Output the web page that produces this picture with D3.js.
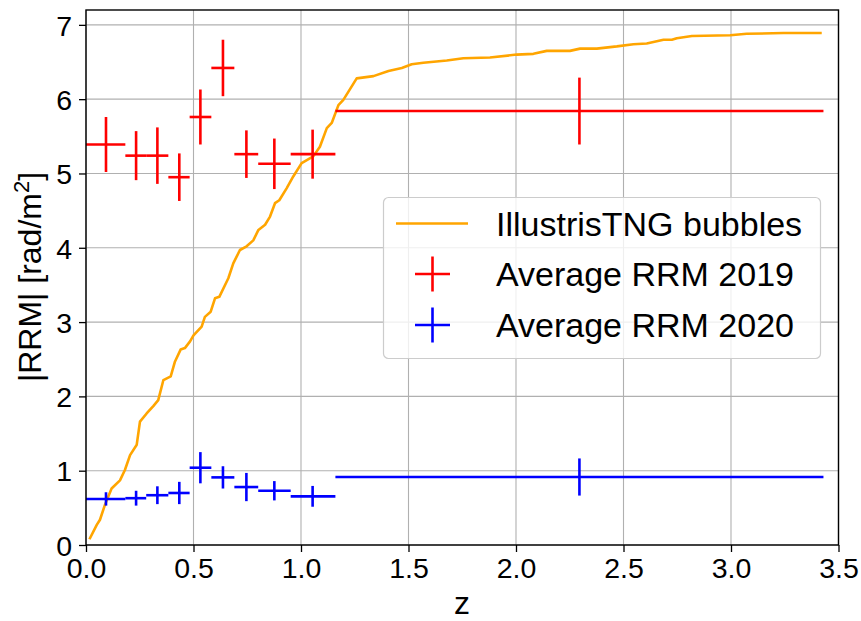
<!DOCTYPE html>
<html>
<head>
<meta charset="utf-8">
<style>
body{margin:0;background:#fff;}
svg{display:block;font-family:"Liberation Sans",Arial,sans-serif;}
</style>
</head>
<body>
<svg id="graph" width="861" height="621"></svg>
<script src="https://cdn.jsdelivr.net/npm/d3@7"></script>
<script>
// bin edges shared by both years
var binEdges = [0.0, 0.183, 0.280, 0.383, 0.482, 0.583, 0.690, 0.801, 0.952, 1.160, 3.430];
var zMid = [0.093, 0.233, 0.332, 0.434, 0.532, 0.637, 0.746, 0.876, 1.054, 2.295];

var rrm2019 = [5.39, 5.24, 5.24, 4.95, 5.76, 6.42, 5.26, 5.13, 5.26, 5.84];
var err2019 = [0.37, 0.33, 0.38, 0.32, 0.37, 0.38, 0.32, 0.34, 0.33, 0.45];
var rrm2020 = [0.62, 0.63, 0.67, 0.70, 1.04, 0.91, 0.78, 0.73, 0.655, 0.915];
var err2020 = [0.09, 0.10, 0.12, 0.15, 0.21, 0.15, 0.19, 0.13, 0.14, 0.25];

// IllustrisTNG bubbles curve
var zCurve = [0.016,0.05,0.065,0.088,0.119,0.158,0.181,0.205,0.236,0.251,0.282,0.313,0.336,0.36,0.394,0.414,0.44,0.46,0.484,0.5,0.538,0.553,0.58,0.6,0.62,0.662,0.685,0.716,0.747,0.778,0.802,0.833,0.856,0.879,0.899,0.933,0.964,1.003,1.057,1.088,1.12,1.143,1.174,1.197,1.259,1.337,1.407,1.469,1.515,1.569,1.678,1.755,1.879,2.003,2.081,2.143,2.251,2.298,2.376,2.469,2.546,2.608,2.686,2.725,2.748,2.818,2.996,3.073,3.244,3.422];
var rrmCurve = [0.077,0.27,0.34,0.54,0.76,0.87,1.01,1.21,1.35,1.66,1.77,1.87,1.95,2.22,2.27,2.47,2.63,2.65,2.74,2.82,2.94,3.07,3.14,3.32,3.34,3.59,3.79,3.97,4.02,4.10,4.24,4.31,4.42,4.60,4.64,4.80,4.96,5.14,5.23,5.36,5.61,5.68,5.92,5.99,6.28,6.31,6.38,6.42,6.47,6.49,6.52,6.55,6.56,6.60,6.61,6.65,6.65,6.68,6.68,6.71,6.74,6.75,6.80,6.80,6.82,6.85,6.86,6.88,6.89,6.89];

var xTicks = [0, 0.5, 1.0, 1.5, 2.0, 2.5, 3.0, 3.5];
var yTicks = [0, 1, 2, 3, 4, 5, 6, 7];
var legendLabels = ['IllustrisTNG bubbles', 'Average RRM 2019', 'Average RRM 2020'];

var svg = d3.select('#graph');
var pL = 86, pR = 838.5, pT = 10, pB = 545;

var x = d3.scaleLinear().domain([0, 3.5]).range([pL, pR]);
var y = d3.scaleLinear().domain([0, 7.2]).range([pB, pT]);

// grid
svg.append('g').selectAll('line').data(xTicks).enter().append('line')
	.attr('x1', function(d){return x(d);}).attr('x2', function(d){return x(d);})
	.attr('y1', pT).attr('y2', pB)
	.attr('stroke', '#b0b0b0').attr('stroke-width', 1.1);
svg.append('g').selectAll('line').data(yTicks).enter().append('line')
	.attr('y1', function(d){return y(d);}).attr('y2', function(d){return y(d);})
	.attr('x1', pL).attr('x2', pR)
	.attr('stroke', '#b0b0b0').attr('stroke-width', 1.1);

// curve
var line = d3.line()
	.x(function(d){return x(d[0]);})
	.y(function(d){return y(d[1]);});
svg.append('path')
	.datum(d3.zip(zCurve, rrmCurve))
	.attr('d', line)
	.attr('fill', 'none')
	.attr('stroke', 'orange')
	.attr('stroke-width', 2.6)
	.attr('stroke-linejoin', 'round');

function errorbars(vals, errs, color){
	var g = svg.append('g');
	var rows = vals.map(function(v, i){
		return {z: zMid[i], lo: binEdges[i], hi: binEdges[i+1], v: v, e: errs[i]};
	});
	g.selectAll('.h').data(rows).enter().append('line')
		.attr('x1', function(d){return x(d.lo);})
		.attr('x2', function(d){return x(d.hi);})
		.attr('y1', function(d){return y(d.v);})
		.attr('y2', function(d){return y(d.v);})
		.attr('stroke', color).attr('stroke-width', 2.6);
	g.selectAll('.v').data(rows).enter().append('line')
		.attr('x1', function(d){return x(d.z);})
		.attr('x2', function(d){return x(d.z);})
		.attr('y1', function(d){return y(d.v - d.e);})
		.attr('y2', function(d){return y(d.v + d.e);})
		.attr('stroke', color).attr('stroke-width', 2.6);
}
errorbars(rrm2019, err2019, 'red');
errorbars(rrm2020, err2020, 'blue');

// axes
var xAxis = svg.append('g')
	.attr('transform', 'translate(0,' + pB + ')')
	.call(d3.axisBottom(x).tickValues(xTicks).tickFormat(d3.format('.1f')).tickSizeInner(7).tickSizeOuter(0).tickPadding(6));
var yAxis = svg.append('g')
	.attr('transform', 'translate(' + pL + ',0)')
	.call(d3.axisLeft(y).tickValues(yTicks).tickFormat(d3.format('d')).tickSizeInner(7).tickSizeOuter(0).tickPadding(7));
[xAxis, yAxis].forEach(function(a){
	a.select('.domain').remove();
	a.selectAll('.tick line').attr('stroke', '#000').attr('stroke-width', 1.3);
	a.selectAll('.tick text').attr('fill', '#000').style('font-size', '28.5px').style('font-family', '"Liberation Sans",Arial,sans-serif');
});
yAxis.selectAll('.tick text').attr('dy', '0.36em');

svg.append('rect')
	.attr('x', pL).attr('y', pT)
	.attr('width', pR - pL).attr('height', pB - pT)
	.attr('fill', 'none').attr('stroke', '#000').attr('stroke-width', 1.4);

// axis labels
svg.append('text')
	.attr('x', 462).attr('y', 614)
	.attr('text-anchor', 'middle')
	.style('font-size', '32px')
	.text('z');
var yl = svg.append('text')
	.attr('transform', 'translate(41,277) rotate(-90)')
	.attr('text-anchor', 'middle')
	.style('font-size', '32px');
yl.append('tspan').text('|RRM| [rad/m');
yl.append('tspan').attr('dy', -12).style('font-size', '22px').text('2');
yl.append('tspan').attr('dy', 12).text(']');

// legend
var lg = svg.append('g');
lg.append('rect')
	.attr('x', 383.5).attr('y', 197.5).attr('width', 437).attr('height', 161)
	.attr('rx', 5).attr('ry', 5)
	.attr('fill', '#fff').attr('fill-opacity', 0.8)
	.attr('stroke', '#cccccc').attr('stroke-width', 1.2);
var rowY = [223.5, 274, 325];
lg.append('line')
	.attr('x1', 396).attr('x2', 468).attr('y1', rowY[0]).attr('y2', rowY[0])
	.attr('stroke', 'orange').attr('stroke-width', 2.6);
['red', 'blue'].forEach(function(c, i){
	var yy = rowY[i + 1];
	lg.append('line').attr('x1', 415).attr('x2', 450).attr('y1', yy).attr('y2', yy)
		.attr('stroke', c).attr('stroke-width', 2.6);
	lg.append('line').attr('x1', 432.5).attr('x2', 432.5).attr('y1', yy - 17.5).attr('y2', yy + 17.5)
		.attr('stroke', c).attr('stroke-width', 2.6);
});
lg.selectAll('text.lab').data(legendLabels).enter().append('text')
	.attr('class', 'lab')
	.attr('x', 496)
	.attr('y', function(d, i){return rowY[i] + 12;})
	.style('font-size', '34px')
	.text(function(d){return d;});
</script>
</body>
</html>
